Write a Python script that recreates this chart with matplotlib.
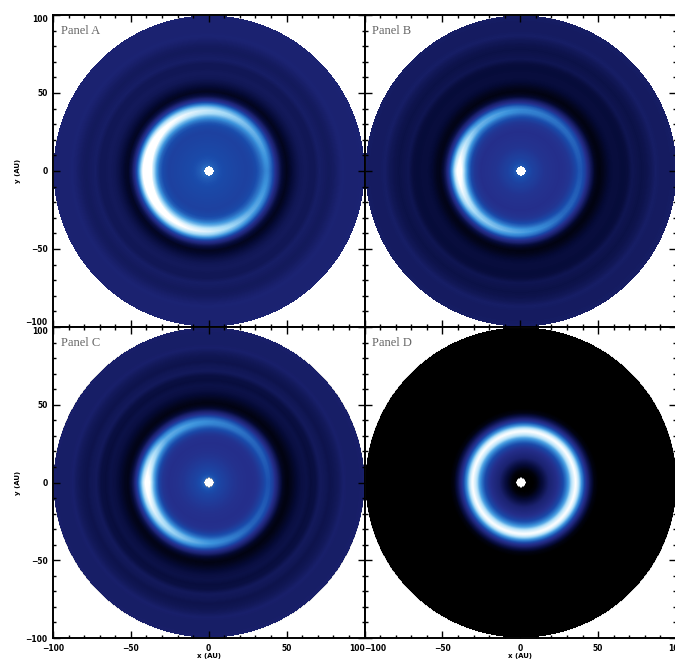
import matplotlib
matplotlib.use('Agg')
import matplotlib.pyplot as plt
from matplotlib.colors import LinearSegmentedColormap
import numpy as np

# radial samples (AU) of the background brightness, 0 = black, 1 = white
radii = [3, 5, 8, 12, 16, 20, 25, 30, 34, 38, 42, 45, 48, 51, 54, 57, 60, 63, 66, 69, 72, 75, 78, 81, 84, 87, 90, 93, 96, 100]
bg_a = [.50, .46, .43, .41, .40, .39, .38, .38, .37, .34, .24, .12, .05, .04, .08, .12, .15, .16, .15, .15, .18, .17, .16, .17, .19, .21, .20, .20, .20, .21]
bg_b = [.46, .42, .38, .35, .32, .31, .30, .30, .29, .27, .20, .09, .02, .02, .05, .08, .10, .10, .09, .10, .14, .13, .12, .13, .15, .18, .17, .17, .17, .18]
bg_c = [.48, .43, .39, .36, .33, .31, .30, .29, .28, .26, .19, .09, .02, .02, .05, .08, .11, .12, .10, .11, .16, .15, .13, .14, .16, .19, .18, .18, .18, .19]
bg_d = [.00, .00, .02, .10, .20, .27, .36, .50, .52, .35, .14, .03, 0, 0, 0, 0, 0, 0, 0, 0, 0, 0, 0, 0, 0, 0, 0, 0, 0, 0]

# ring brightness against distance from ring crest (AU)
ring_dist = [-14, -12, -10, -8, -6, -4, -2, 0, 2, 4, 6, 8, 10, 12, 14]
ring_shape = [0, .02, .05, .13, .30, .54, .85, 1, .85, .60, .38, .20, .08, .02, 0]
ring_dist_d = [-12, -10, -8, -6, -4, -2, 0, 2, 4, 6, 8, 10, 12]
ring_shape_d = [0, .03, .10, .22, .40, .78, 1, .78, .42, .20, .08, .02, 0]

# ring strength around the azimuth, degrees counter-clockwise from +x
azimuth = [0, 45, 90, 135, 180, 225, 270, 315, 360]
amp_a = [.25, .38, .55, .72, .95, .75, .60, .36, .25]
amp_b = [.20, .26, .33, .46, .85, .55, .40, .25, .20]
amp_c = [.20, .26, .35, .45, .85, .60, .38, .25, .20]
amp_d = [.48, .48, .48, .48, .48, .48, .48, .48, .48]

tick_values = [-100, -50, 0, 50, 100]
panel_names = ['Panel A', 'Panel B', 'Panel C', 'Panel D']
ring_radius = [39, 39.5, 39.5, 33]
ring_shift = [-1.0, -0.5, -0.5, 2.0]

# axes edges in pixels of the 675x659 picture
x_edges = [53, 364.5, 676]
y_edges = [15, 327, 638]

cmap = LinearSegmentedColormap.from_list('disk', [
    (0, '#000000'), (.08, '#050a35'), (.2, '#1b2270'), (.3, '#252f8c'),
    (.42, '#1a4bab'), (.6, '#3c93dc'), (.8, '#a5daf7'), (1, '#ffffff')])

W, H = 675, 659
fig = plt.figure(figsize=(W / 100, H / 100), dpi=100)

grid = np.linspace(-100, 100, 312)
xx, yy = np.meshgrid(grid, grid)


def disk_image(bg, dist, shape, amp, r0, shift):
    r = np.hypot(xx, yy)
    r_ring = np.hypot(xx - shift, yy)
    theta = np.degrees(np.arctan2(yy, xx)) % 360
    z = np.interp(r_ring, radii, bg)
    z = z + np.interp(theta, azimuth, amp) * np.interp(r_ring - r0, dist, shape, left=0, right=0)
    return np.ma.masked_where((r > 100) | (r < 3), z)


def make_panel(i, bg, dist, shape, amp):
    col, row = i % 2, i // 2
    x0, x1 = x_edges[col], x_edges[col + 1]
    y0, y1 = y_edges[row], y_edges[row + 1]
    ax = fig.add_axes([x0 / W, 1 - y1 / H, (x1 - x0) / W, (y1 - y0) / H])
    ax.imshow(disk_image(bg, dist, shape, amp, ring_radius[i], ring_shift[i]),
              origin='lower', extent=[-100, 100, -100, 100], cmap=cmap,
              vmin=0, vmax=1, interpolation='bilinear', aspect='auto')
    ax.set_xlim(-100, 100)
    ax.set_ylim(-100, 100)
    ax.set_xticks(tick_values)
    ax.set_yticks(tick_values)
    ax.set_xticks(np.arange(-100, 101, 10), minor=True)
    ax.set_yticks(np.arange(-100, 101, 10), minor=True)
    ax.tick_params(which='major', direction='in', length=5, width=1, top=True, right=True,
                   labelsize=5.5, pad=4, labelbottom=row == 1, labelleft=col == 0)
    ax.tick_params(which='minor', direction='in', length=2.5, width=1, top=True, right=True)
    for lab in ax.get_xticklabels() + ax.get_yticklabels():
        lab.set_fontweight('bold')
    for s in ax.spines.values():
        s.set_linewidth(1.4)

    # end labels sit inside the panel so neighbours do not collide
    if row == 1 and col == 0:
        ax.get_xticklabels()[-1].set_ha('right')
    if row == 1 and col == 1:
        ax.get_xticklabels()[0].set_ha('left')
    if col == 0:
        ax.get_yticklabels()[-1].set_va('top')
        if row == 0:
            ax.get_yticklabels()[0].set_va('bottom')

    if row == 1:
        ax.set_xlabel('x (AU)', fontsize=5, fontweight='bold', labelpad=0.5)
    if col == 0:
        ax.set_ylabel('y (AU)', fontsize=5, fontweight='bold', labelpad=3)
    ax.text(-95, 90, panel_names[i], fontsize=9, family='Liberation Serif', color='#666666',
            ha='left', va='center')


make_panel(0, bg_a, ring_dist, ring_shape, amp_a)
make_panel(1, bg_b, ring_dist, ring_shape, amp_b)
make_panel(2, bg_c, ring_dist, ring_shape, amp_c)
make_panel(3, bg_d, ring_dist_d, ring_shape_d, amp_d)

fig.savefig('out.png', dpi=100)
